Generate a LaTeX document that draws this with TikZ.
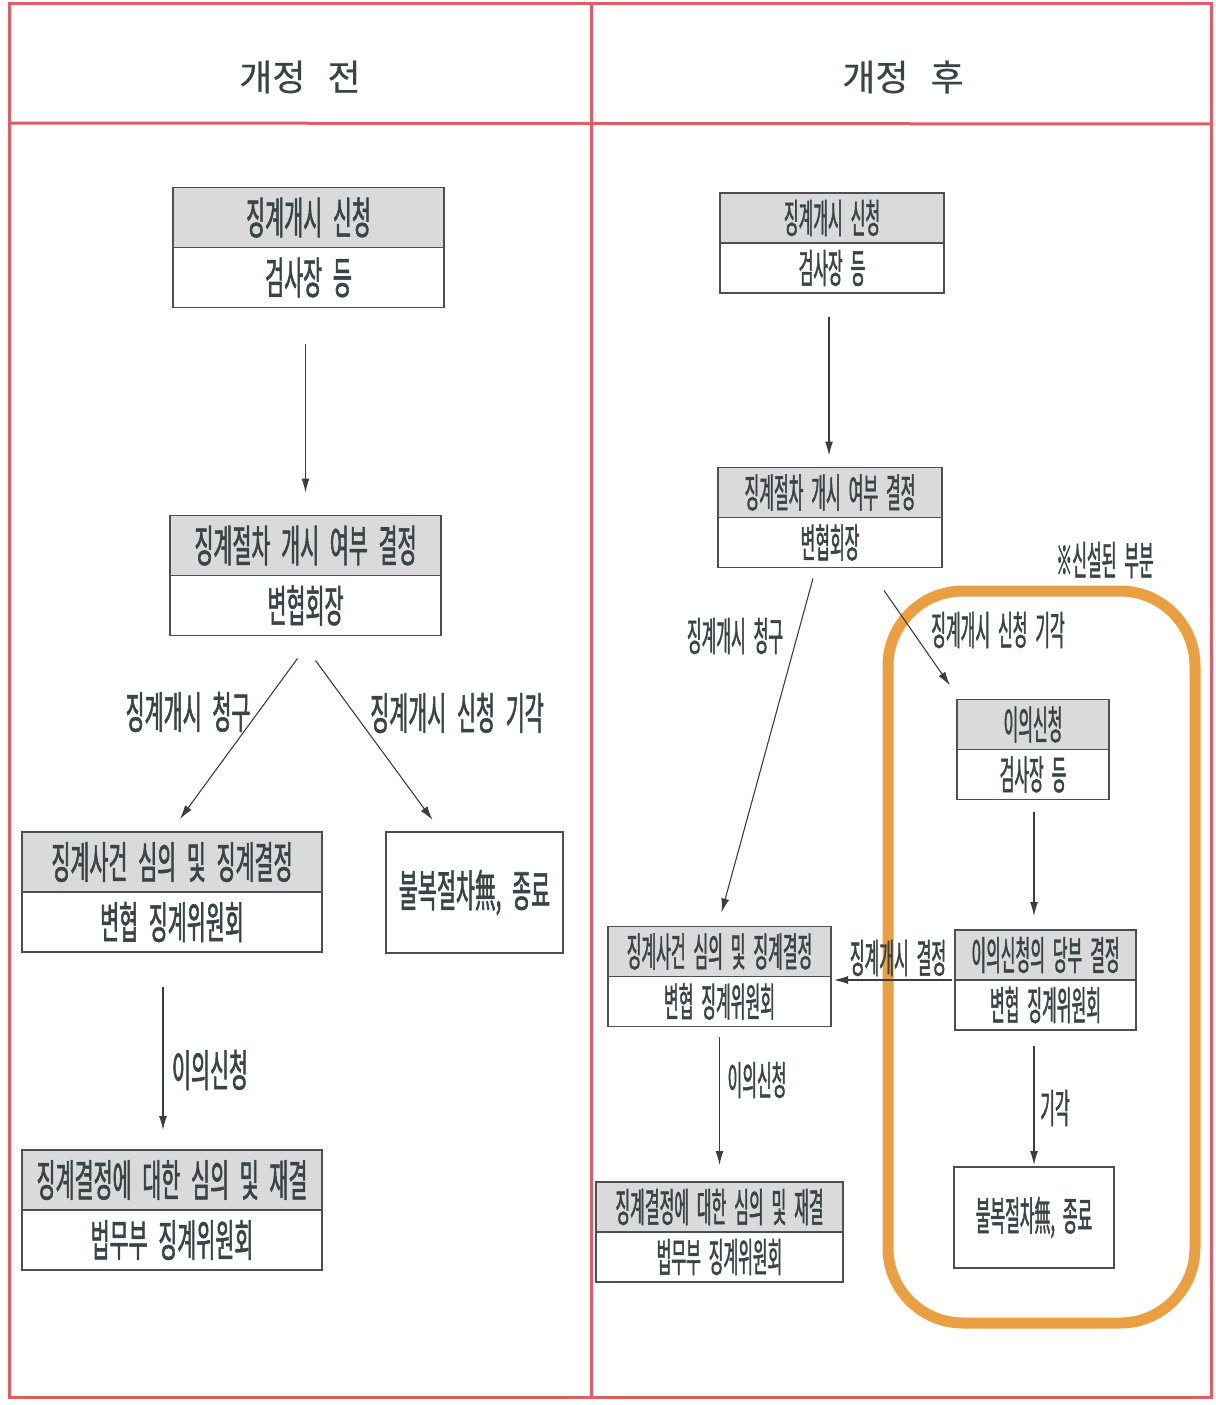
\documentclass[tikz,border=0pt]{standalone}
\usepackage{fontspec}
\setmainfont{Noto Sans CJK KR}
\newfontfamily\krwide[FakeBold=0.6]{Noto Sans CJK KR}
\newfontfamily\krleft[FakeStretch=0.47,WordSpace=2.3,FakeBold=1.2]{Noto Sans CJK KR}
\newfontfamily\krright[FakeStretch=0.40,WordSpace=2.2,FakeBold=1.1]{Noto Sans CJK KR}
\usetikzlibrary{positioning,arrows.meta}

\definecolor{framered}{RGB}{226,92,104}
\definecolor{boxline}{RGB}{78,80,80}
\definecolor{headgray}{RGB}{218,218,218}
\definecolor{textgray}{RGB}{58,68,70}
\definecolor{arrowgray}{RGB}{60,62,62}
\definecolor{orangeline}{RGB}{234,160,66}

\begin{document}
\begin{tikzpicture}[x=1pt,y=-1pt,
    lhead/.style={
        rectangle,
        draw=boxline,
        fill=headgray,
        line width=1.6pt,
        outer sep=0pt,
        inner sep=0pt,
        minimum height=60pt,
        text=textgray,
        font=\krleft\fontsize{44}{48}\selectfont
    },
    lbody/.style={lhead, fill=white},
    rhead/.style={lhead, minimum height=50pt, font=\krright\fontsize{40}{44}\selectfont},
    rbody/.style={rhead, fill=white},
    llabel/.style={text=textgray, font=\krleft\fontsize{44}{48}\selectfont},
    rlabel/.style={text=textgray, font=\krright\fontsize{40}{44}\selectfont},
    arrow/.style={
        -{Latex[length=14pt,width=8pt]},
        line width=1.1pt,
        draw=arrowgray
    },
    frame/.style={draw=framered, line width=3pt},
    newzone/.style={draw=orangeline, line width=11pt, rounded corners=75pt}
]
\useasboundingbox (0,0) rectangle (1215,1405);

% Table frame
\draw[frame] (9,4) rectangle (1211,1397);
\draw[frame] (591,4) -- (591,1397);
\draw[frame] (9,123) -- (1211,124);
\node[text=textgray, font=\krwide\fontsize{36}{40}\selectfont] (before) at (300,77) {개정\hspace{14pt} 전};
\node[text=textgray, font=\krwide\fontsize{36}{40}\selectfont] (after) at (903,77) {개정\hspace{14pt} 후};

% New part
\draw[newzone] (888,591) rectangle (1195,1323);
\node[rlabel] (newnote) at (1105,560) {※신설된 부분};

% Before: boxes
\node[lhead, minimum width=271pt] (L1h) at (308.5,217.5) {징계개시 신청};
\node[lbody, minimum width=271pt, below=0pt of L1h] (L1b) {검사장 등};

\node[lhead, minimum width=271pt] (L2h) at (305.5,545.5) {징계절차 개시 여부 결정};
\node[lbody, minimum width=271pt, below=0pt of L2h] (L2b) {변협회장};

\node[lhead, minimum width=300pt] (L3h) at (172,862) {징계사건 심의 및 징계결정};
\node[lbody, minimum width=300pt, below=0pt of L3h] (L3b) {변협 징계위원회};

\node[lbody, minimum width=177pt, minimum height=121pt] (L4) at (474.5,892.5) {불복절차無, 종료};

\node[lhead, minimum width=300pt] (L5h) at (172,1180) {징계결정에 대한 심의 및 재결};
\node[lbody, minimum width=300pt, below=0pt of L5h] (L5b) {법무부 징계위원회};

% Before: arrows
\draw[arrow] ([xshift=-3pt,yshift=-36pt]L1b.south) -- ([yshift=23pt]L2h.north);
\draw[arrow] ([xshift=-8pt,yshift=-23pt]L2b.south) -- ([xshift=8pt,yshift=13pt]L3h.north);
\draw[arrow] ([xshift=10pt,yshift=-25pt]L2b.south) -- ([xshift=-42pt,yshift=12pt]L4.north);
\draw[arrow] ([xshift=-9pt,yshift=-35pt]L3b.south) -- ([xshift=-9pt,yshift=20pt]L5h.north);

\node[llabel] (claimL) at (188,712) {징계개시 청구};
\node[llabel] (rejectL) at (457,713) {징계개시 신청 기각};
\node[llabel] (objectL) at (210,1070) {이의신청};

% After: boxes
\node[rhead, minimum width=224pt] (R1h) at (832,218) {징계개시 신청};
\node[rbody, minimum width=224pt, below=0pt of R1h] (R1b) {검사장 등};

\node[rhead, minimum width=224pt] (R2h) at (830,492.5) {징계절차 개시 여부 결정};
\node[rbody, minimum width=224pt, below=0pt of R2h] (R2b) {변협회장};

\node[rhead, minimum width=152pt] (R3h) at (1033,724.5) {이의신청};
\node[rbody, minimum width=152pt, below=0pt of R3h] (R3b) {검사장 등};

\node[rhead, minimum width=223pt] (R4h) at (719.5,951.5) {징계사건 심의 및 징계결정};
\node[rbody, minimum width=223pt, below=0pt of R4h] (R4b) {변협 징계위원회};

\node[rhead, minimum width=181pt] (R5h) at (1045.5,955) {이의신청의 당부 결정};
\node[rbody, minimum width=181pt, below=0pt of R5h] (R5b) {변협 징계위원회};

\node[rhead, minimum width=247pt] (R6h) at (719.5,1207) {징계결정에 대한 심의 및 재결};
\node[rbody, minimum width=247pt, below=0pt of R6h] (R6b) {법무부 징계위원회};

\node[rbody, minimum width=160pt, minimum height=101pt] (R7) at (1034,1217.5) {불복절차無, 종료};

% After: arrows
\draw[arrow] ([xshift=-3pt,yshift=-24pt]R1b.south) -- ([xshift=-1pt,yshift=12pt]R2h.north);
\draw[arrow] ([xshift=-17pt,yshift=-11pt]R2b.south) -- ([xshift=2pt,yshift=14pt]R4h.north);
\draw[arrow] ([xshift=54pt,yshift=-23pt]R2b.south) -- ([xshift=-83pt,yshift=14pt]R3h.north);
\draw[arrow] ([xshift=1pt,yshift=-12pt]R3b.south) -- ([xshift=-11.5pt,yshift=14pt]R5h.north);
\draw[arrow, shorten >=3pt] ([xshift=-3pt]R5b.north west) -- (R5b.north west -| R4b.east);
\draw[arrow] ([yshift=-10pt]R4b.south) -- ([yshift=17pt]R6h.north);
\draw[arrow] ([xshift=-11.5pt,yshift=-16pt]R5b.south) -- ([yshift=2pt]R7.north);

\node[rlabel] (claimR) at (735,636) {징계개시 청구};
\node[rlabel] (rejectR) at (998,630) {징계개시 신청 기각};
\node[rlabel] (decideR) at (898,958) {징계개시 결정};
\node[rlabel] (objectR) at (757,1080) {이의신청};
\node[rlabel] (dismissR) at (1055,1108) {기각};

\end{tikzpicture}
\end{document}
